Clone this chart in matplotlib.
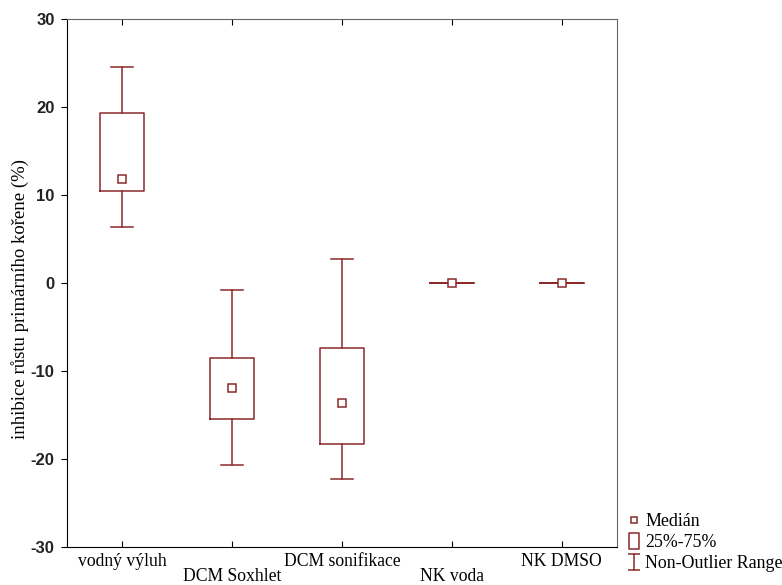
import numpy as np
import matplotlib.pyplot as plt
from matplotlib.path import Path
from matplotlib.lines import Line2D

plt.rcParams['axes.unicode_minus'] = False

groups = ['vodný výluh', 'DCM Soxhlet', 'DCM sonifikace', 'NK voda', 'NK DMSO']
medians = [11.8, -11.9, -13.6, 0.0, 0.0]
q1 = [10.4, -15.4, -18.3, 0.0, 0.0]
q3 = [19.3, -8.5, -7.4, 0.0, 0.0]
whis_lo = [6.4, -20.7, -22.3, 0.0, 0.0]
whis_hi = [24.6, -0.8, 2.7, 0.0, 0.0]

col = '#8b2a2a'
serif = ['Liberation Serif', 'DejaVu Serif']

fig = plt.figure(figsize=(7.82, 5.85), dpi=100)
ax = fig.add_axes([0.0857, 0.065, 0.703, 0.9025])

stats = []
for i in range(len(groups)):
    stats.append(dict(med=medians[i], q1=q1[i], q3=q3[i],
                      whislo=whis_lo[i], whishi=whis_hi[i], fliers=[]))

pos = np.arange(len(groups))
ax.bxp(stats, positions=pos, widths=0.4, capwidths=0.2, showfliers=False,
       boxprops=dict(color=col, linewidth=1.1),
       whiskerprops=dict(color=col, linewidth=1.1),
       capprops=dict(color=col, linewidth=1.1),
       medianprops=dict(linewidth=0))
ax.plot(pos, medians, linestyle='none', marker='s', markersize=6,
        markerfacecolor='white', markeredgecolor=col, markeredgewidth=1.1)

ax.set_xlim(-0.5, 4.5)
ax.set_ylim(-30, 30)
ax.set_yticks([-30, -20, -10, 0, 10, 20, 30])
ax.set_xticks(pos)
labels = [g if i % 2 == 0 else '\n' + g for i, g in enumerate(groups)]
ax.set_xticklabels(labels, fontfamily=serif, fontsize=12.7, linespacing=0.9)
ax.tick_params(axis='x', direction='in', top=True, length=4, pad=4)
ax.tick_params(axis='y', direction='out', right=False, length=4, pad=5)
for t in ax.get_yticklabels():
    t.set_fontfamily(['Liberation Sans', 'DejaVu Sans'])
    t.set_fontweight('bold')
    t.set_fontsize(12)
    t.set_color('#222222')
ax.spines['top'].set_color('#666666')
ax.spines['right'].set_color('#666666')

ax.set_ylabel('inhibice růstu primárního kořene (%)', fontfamily=serif,
              fontsize=13.5)
ax.yaxis.set_label_coords(-0.069, 0.47)

# legend symbols
rect = Path([(-0.62, -1), (0.62, -1), (0.62, 1), (-0.62, 1), (-0.62, -1)],
            [Path.MOVETO, Path.LINETO, Path.LINETO, Path.LINETO, Path.CLOSEPOLY])
whisk = Path([(-0.7, 1), (0.7, 1), (0, 1), (0, -1), (-0.7, -1), (0.7, -1)],
             [Path.MOVETO, Path.LINETO, Path.MOVETO, Path.LINETO, Path.MOVETO, Path.LINETO])
h1 = Line2D([], [], linestyle='none', marker='s', markersize=5,
            markerfacecolor='white', markeredgecolor=col, markeredgewidth=1.1)
h2 = Line2D([], [], linestyle='none', marker=rect, markersize=11.5,
            markerfacecolor='white', markeredgecolor=col, markeredgewidth=1.1)
h3 = Line2D([], [], linestyle='none', marker=whisk, markersize=12.2,
            markerfacecolor='none', markeredgecolor=col, markeredgewidth=1.1)
fig.legend([h1, h2, h3], ['Medián', '25%-75%', 'Non-Outlier Range'],
           loc='lower left', bbox_to_anchor=(0.80, 0.022), frameon=False,
           prop=dict(family=serif, size=12.9), handlelength=0.9,
           handletextpad=0.2, labelspacing=0.22, borderaxespad=0.0,
           borderpad=0.0)

fig.savefig('out.png', dpi=100)
